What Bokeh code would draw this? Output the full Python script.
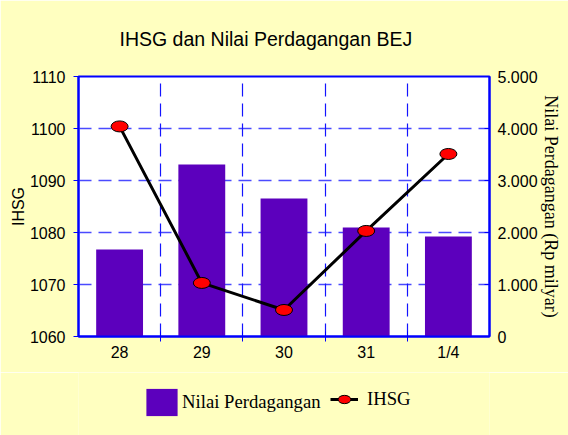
from bokeh.plotting import figure
from bokeh.models import (Range1d, LinearAxis, FixedTicker,
                          ColumnDataSource, Legend, LegendItem, Title, Grid)
from bokeh.layouts import column
from bokeh.embed import file_html
from bokeh.resources import INLINE

days = ["28", "29", "30", "31", "1/4"]
ihsg = [1100.4, 1070.3, 1065.1, 1080.3, 1095.1]
nilai = [1673, 3308, 2654, 2096, 1923]

left_ticks = [1060, 1070, 1080, 1090, 1100, 1110]
right_ticks = [0, 1000, 2000, 3000, 4000, 5000]
right_labels = ["0", "1.000", "2.000", "3.000", "4.000", "5.000"]

centers = [i + 0.5 for i in range(len(days))]
boundaries = list(range(1, len(days)))

BG = "#FFFFC0"
BLUE = "#0000FF"
PURPLE = "#5C00BD"

src = ColumnDataSource(dict(day=days, ihsg=ihsg, nilai=nilai))

p = figure(width=568, height=372, x_range=days, y_range=Range1d(1060, 1110),
           output_backend="svg", toolbar_location=None,
           x_axis_location=None, y_axis_location=None,
           min_border_left=78, min_border_right=79, min_border_top=76,
           min_border_bottom=36)
p.background_fill_color = "white"
p.border_fill_color = BG
p.outline_line_color = BLUE
p.outline_line_width = 2
p.extra_y_ranges = {"val": Range1d(0, 5000)}
p.center = []

t = Title(text="IHSG dan Nilai Perdagangan BEJ", align="left", offset=41,
          standoff=52, vertical_align="middle",
          text_font="Liberation Sans", text_font_size="19.5px",
          text_font_style="normal", text_color="black")
p.add_layout(t, "above")

# left axis
la = LinearAxis(ticker=FixedTicker(ticks=left_ticks), axis_label="IHSG")
la.axis_line_color = BLUE
la.axis_line_width = 2
la.major_tick_line_color = BLUE
la.major_tick_out = 5
la.major_tick_in = 0
la.minor_tick_line_color = None
la.major_label_text_font = "Liberation Sans"
la.major_label_text_font_size = "16px"
la.major_label_text_color = "black"
la.major_label_standoff = 8
la.axis_label_text_font = "Liberation Sans"
la.axis_label_text_font_size = "16px"
la.axis_label_text_font_style = "normal"
la.axis_label_text_color = "black"
la.axis_label_standoff = 0
p.add_layout(la, "left")

# right axis
ra = LinearAxis(y_range_name="val", ticker=FixedTicker(ticks=right_ticks),
                axis_label="Nilai Perdagangan (Rp milyar)")
ra.major_label_overrides = {k: v for k, v in zip(right_ticks, right_labels)}
ra.axis_line_color = BLUE
ra.axis_line_width = 2
ra.major_tick_line_color = BLUE
ra.major_tick_out = 0
ra.major_tick_in = 5
ra.minor_tick_line_color = None
ra.major_label_text_font = "Liberation Sans"
ra.major_label_text_font_size = "16px"
ra.major_label_text_color = "black"
ra.major_label_standoff = 8
ra.axis_label_text_font = "Liberation Serif"
ra.axis_label_text_font_size = "18px"
ra.axis_label_text_font_style = "normal"
ra.axis_label_text_color = "black"
ra.axis_label_standoff = 0
p.add_layout(ra, "right")

# bottom axis: labels at category centres, tick marks at boundaries
ba = LinearAxis(ticker=FixedTicker(ticks=centers, minor_ticks=boundaries))
ba.major_label_overrides = {c: d for c, d in zip(centers, days)}
ba.axis_line_color = BLUE
ba.axis_line_width = 2
ba.major_tick_line_color = None
ba.major_tick_in = 0
ba.major_tick_out = 0
ba.minor_tick_line_color = BLUE
ba.minor_tick_in = 5
ba.minor_tick_out = 5
ba.major_label_text_font = "Liberation Sans"
ba.major_label_text_font_size = "16px"
ba.major_label_text_color = "black"
ba.major_label_standoff = 2
p.add_layout(ba, "below")

# grids (horizontal first, then vertical)
yg = Grid(dimension=1, ticker=FixedTicker(ticks=left_ticks[1:-1]),
          grid_line_color="#4a4aff", grid_line_dash="13 7", grid_line_width=1.5)
xg = Grid(dimension=0, ticker=FixedTicker(ticks=boundaries),
          grid_line_color="#1414ff", grid_line_dash="13 7", grid_line_width=1.2)
p.add_layout(yg, "center")
p.add_layout(xg, "center")

bars = p.vbar(x="day", top="nilai", bottom=0, width=0.57, source=src,
              y_range_name="val", fill_color=PURPLE, line_color=None)
line = p.line(x="day", y="ihsg", source=src, line_color="black", line_width=3)
marks = p.ellipse(x="day", y="ihsg", width=17, height=11, width_units="screen",
                  height_units="screen", source=src, fill_color="#FF0000",
                  line_color="black", line_width=1)

# legend strip below the chart (its swatches reuse the same series styles;
# the strip's range keeps the series themselves out of view)
lf = figure(width=568, height=63, x_range=days, y_range=Range1d(1e9, 1e9 + 1),
            output_backend="svg", toolbar_location=None,
            x_axis_location=None, y_axis_location=None,
            min_border=0, min_border_left=0, min_border_right=0,
            min_border_top=0, min_border_bottom=0)
lf.background_fill_color = BG
lf.border_fill_color = BG
lf.outline_line_color = None
lf.center = []
lbars = lf.vbar(x="day", top="nilai", bottom=0, width=0.57, source=src,
                fill_color=PURPLE, line_color=None)
lline = lf.line(x="day", y="ihsg", source=src, line_color="black", line_width=3)
lmarks = lf.ellipse(x="day", y="ihsg", width=17, height=11, width_units="screen",
                    height_units="screen", source=src, fill_color="#FF0000",
                    line_color="black", line_width=1)

leg1 = Legend(items=[LegendItem(label="Nilai Perdagangan", renderers=[lbars])],
              orientation="horizontal", location=(64, 16),
              background_fill_alpha=0, border_line_color=None,
              padding=0, margin=0, label_standoff=1,
              glyph_width=39, glyph_height=34,
              label_text_font="Liberation Serif", label_text_font_size="18.7px",
              label_text_color="black")
leg2 = Legend(items=[LegendItem(label="IHSG", renderers=[lline, lmarks])],
              orientation="horizontal", location=(252, 25),
              background_fill_alpha=0, border_line_color=None,
              padding=0, margin=0, label_standoff=9,
              glyph_width=28, glyph_height=16,
              label_text_font="Liberation Serif", label_text_font_size="18.7px",
              label_text_color="black")
lf.add_layout(leg1, "center")
lf.add_layout(leg2, "center")

layout = column(p, lf, spacing=0)
open("out.html", "w").write(file_html(layout, INLINE))
